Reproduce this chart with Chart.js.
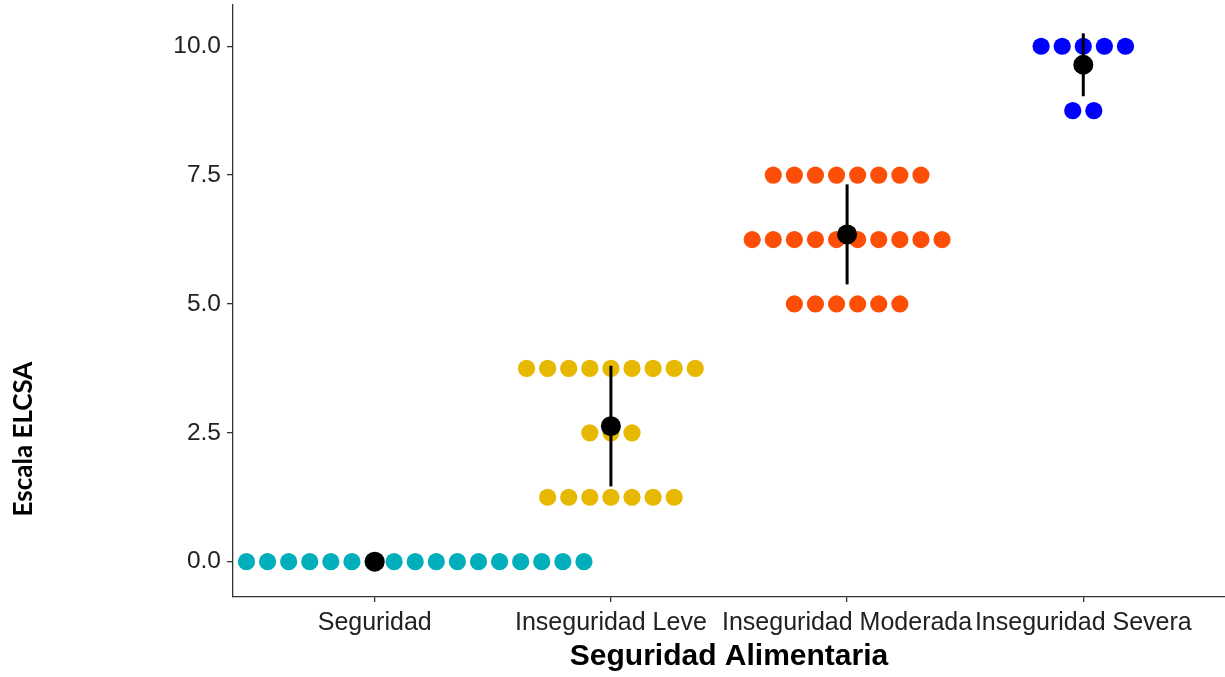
<!DOCTYPE html>
<html><head><meta charset="utf-8">
<script src="https://cdn.jsdelivr.net/npm/chart.js@4.4.1/dist/chart.umd.min.js"></script>
<style>html,body{margin:0;padding:0;background:#fff}</style>
</head><body>
<canvas id="c" width="1225" height="677"></canvas>
<script>
// ---- data ----
const categories = ['Seguridad', 'Inseguridad Leve', 'Inseguridad Moderada', 'Inseguridad Severa'];
const scoreLevels = [[0], [1.25, 2.5, 3.75], [5, 6.25, 7.5], [8.75, 10]];
const levelCounts = [[17], [7, 3, 9], [6, 10, 8], [2, 5]];
const groupMeans = [0, 2.63, 6.35, 9.64];
const groupSD = [0, 1.17, 0.97, 0.61];
const yTicks = [0, 2.5, 5, 7.5, 10];
const xTitle = 'Seguridad Alimentaria';
const yTitle = 'Escala ELCSA';

// ---- style / layout ----
const groupColors = ['#00AFBB', '#E7B800', '#FC4E07', '#0000FF'];
const dotStep = 0.0893;              // dot spacing in x-axis units
const stackShift = [1.92, 0, 0, 0];  // row shift (in dots) as in the original
const sansFont = "'Liberation Sans', Arial, sans-serif";

const datasets = [];
categories.forEach((cat, i) => {
  const pts = [];
  scoreLevels[i].forEach((lv, j) => {
    const n = levelCounts[i][j];
    for (let k = 0; k < n; k++) {
      pts.push({ x: (i + 1) + (k - (n - 1) / 2 + stackShift[i]) * dotStep, y: lv });
    }
  });
  datasets.push({
    label: cat, data: pts, order: 3,
    pointRadius: 8.6, pointHoverRadius: 8.6, pointBorderWidth: 0,
    backgroundColor: groupColors[i], borderColor: groupColors[i], showLine: false
  });
});
categories.forEach((cat, i) => {
  datasets.push({
    label: cat + ' sd', order: 2, showLine: true,
    data: [{ x: i + 1, y: groupMeans[i] - groupSD[i] }, { x: i + 1, y: groupMeans[i] + groupSD[i] }],
    borderColor: '#000', borderWidth: 3, pointRadius: 0, pointHoverRadius: 0
  });
});
datasets.push({
  label: 'media', order: 1,
  data: groupMeans.map((m, i) => ({ x: i + 1, y: m })),
  pointRadius: 10, pointHoverRadius: 10, pointBorderWidth: 0,
  backgroundColor: '#000', borderColor: '#000', showLine: false
});

const yTitlePlugin = {
  id: 'yTitle',
  afterDraw(chart) {
    const ctx = chart.ctx;
    ctx.save();
    ctx.translate(31.5, 439);
    ctx.rotate(-Math.PI / 2);
    ctx.font = "bold 26px Lato, 'Open Sans', sans-serif";
    ctx.fillStyle = '#000';
    ctx.textAlign = 'center';
    ctx.textBaseline = 'alphabetic';
    ctx.fillText(yTitle, 0, 0);
    ctx.restore();
  }
};

new Chart(document.getElementById('c'), {
  type: 'scatter',
  data: { datasets },
  plugins: [yTitlePlugin],
  options: {
    responsive: false, animation: false, devicePixelRatio: 1,
    layout: { autoPadding: false, padding: { top: 5, left: 0, right: 0, bottom: 0 } },
    plugins: { legend: { display: false }, tooltip: { enabled: false } },
    events: [],
    scales: {
      x: {
        type: 'linear', min: 0.4, max: 4.6,
        afterBuildTicks: s => { s.ticks = categories.map((c, i) => ({ value: i + 1 })); },
        afterFit: s => { s.height = 80; s.paddingLeft = 0; s.paddingRight = 0; },
        ticks: {
          callback: v => categories[Math.round(v) - 1],
          autoSkip: false, maxRotation: 0, minRotation: 0, padding: 6,
          color: '#222', font: { family: sansFont, size: 25 }
        },
        grid: { drawOnChartArea: false, drawTicks: true, tickLength: 5, color: '#333', lineWidth: 1.3 },
        border: { display: true, color: '#333', width: 1.3 },
        title: {
          display: true, text: xTitle, color: '#000',
          font: { family: sansFont, size: 30, weight: 'bold', lineHeight: 1.2 },
          padding: { top: 0, bottom: 2 }
        }
      },
      y: {
        type: 'linear', min: -0.685, max: 10.8,
        afterBuildTicks: s => { s.ticks = yTicks.map(v => ({ value: v })); },
        afterFit: s => { s.width = 233; s.paddingTop = 0; s.paddingBottom = 0; },
        ticks: {
          callback: v => Number(v).toFixed(1), padding: 6,
          color: '#222', font: { family: sansFont, size: 24.5 }
        },
        grid: { drawOnChartArea: false, drawTicks: true, tickLength: 6, color: '#333', lineWidth: 1.3 },
        border: { display: true, color: '#333', width: 1.3 }
      }
    }
  }
});
</script>
</body></html>
